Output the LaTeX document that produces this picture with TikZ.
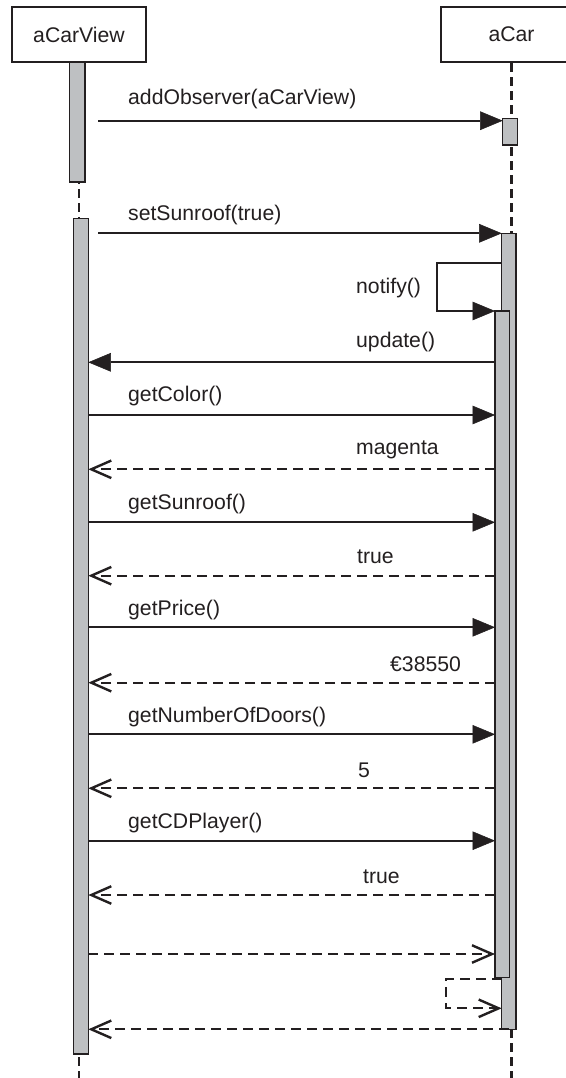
\documentclass[tikz,border=0pt]{standalone}
\usepackage{fontspec}
\setmainfont{Liberation Sans}
\usetikzlibrary{arrows.meta}
\definecolor{ink}{RGB}{35,31,32}
\definecolor{barfill}{RGB}{190,192,194}
\newcommand{\msgfont}{\fontsize{21.2}{25}\selectfont}
\tikzset{
  obj/.style={draw=ink, line width=2.2pt, fill=white, minimum height=55pt, inner sep=0pt, text=ink, font=\msgfont},
  actbar/.style={draw=ink, line width=1.2pt, fill=barfill, inner sep=0pt, outer sep=0pt, anchor=north west},
  lifeline/.style={draw=ink, line width=2.3pt, dash pattern=on 9pt off 5pt},
  call/.style={draw=ink, line width=2.1pt, -{Triangle[length=22.5pt,width=18.6pt,line width=0.5pt]}},
  reply/.style={draw=ink, line width=2.3pt, dash pattern=on 10pt off 6pt, -{Straight Barb[length=20pt,width=17.5pt,line width=2.4pt]}},
  lbl/.style={anchor=base west, inner sep=0pt, text=ink, font=\msgfont},
}
\begin{document}
\begin{tikzpicture}[x=1pt,y=-1pt]
\useasboundingbox (0,0) rectangle (565,1078);
\fill[white] (0,0) rectangle (565,1078);
% objects
\node[obj, minimum width=134pt] (view) at (79,34.5) {aCarView};
\node[obj, minimum width=141pt] (car) at (511.5,34.5) {aCar};
% lifelines
\coordinate (viewend) at (79,1080);
\coordinate (carend) at (511.5,1080);
\draw[lifeline] (view.south) -- (viewend);
\draw[lifeline] (car.south) -- (carend);
% activation bars
\node[actbar, minimum width=15.5pt, minimum height=120pt] (vb1) at (69.5,62) {};
\node[actbar, minimum width=15pt, minimum height=835.7pt] (vb2) at (73.3,218.3) {};
\node[actbar, minimum width=15pt, minimum height=26.7pt] (cb1) at (502.7,118.3) {};
\node[actbar, minimum width=14.3pt, minimum height=796pt] (cb2) at (501.7,233.3) {};
\node[actbar, minimum width=14.3pt, minimum height=666.3pt] (cb3) at (495,311) {};
% addObserver
\coordinate (ao) at (98.3,120.7);
\draw[call] (ao) -- (cb1.west |- ao);
\node[lbl] (l1) at (128,104.3) {addObserver(aCarView)};
% setSunroof
\coordinate (ss) at (98.3,233.3);
\draw[call] (ss) -- (cb2.north west);
\node[lbl] (l2) at (128,220.7) {setSunroof(true)};
% notify self call
\coordinate (nt) at (501.7,262.7);
\draw[call] (nt) -- ++(-64.4,0) |- (cb3.north west);
\node[lbl] (l3) at (356,293.3) {notify()};
% update
\draw[call] (cb3.west |- 0,362.3) -- (vb2.east |- 0,362.3);
\node[lbl] (l4) at (356,347) {update()};
% getColor / magenta
\draw[call] (vb2.east |- 0,415) -- (cb3.west |- 0,415);
\node[lbl] (l5) at (128,401) {getColor()};
\draw[reply] (cb3.west |- 0,469.3) -- (vb2.east |- 0,469.3);
\node[lbl] (l6) at (356,454.3) {magenta};
% getSunroof / true
\draw[call] (vb2.east |- 0,522.3) -- (cb3.west |- 0,522.3);
\node[lbl] (l7) at (128,509.5) {getSunroof()};
\draw[reply] (cb3.west |- 0,575.7) -- (vb2.east |- 0,575.7);
\node[lbl] (l8) at (357,563) {true};
% getPrice / price
\draw[call] (vb2.east |- 0,627.3) -- (cb3.west |- 0,627.3);
\node[lbl] (l9) at (128,615) {getPrice()};
\draw[reply] (cb3.west |- 0,682.7) -- (vb2.east |- 0,682.7);
\node[lbl] (l10) at (390,671.7) {€38550};
% getNumberOfDoors / 5
\draw[call] (vb2.east |- 0,734.3) -- (cb3.west |- 0,734.3);
\node[lbl] (l11) at (128,722) {getNumberOfDoors()};
\draw[reply] (cb3.west |- 0,788.3) -- (vb2.east |- 0,788.3);
\node[lbl] (l12) at (358,777.7) {5};
% getCDPlayer / true
\draw[call] (vb2.east |- 0,840.7) -- (cb3.west |- 0,840.7);
\node[lbl] (l13) at (128,828.5) {getCDPlayer()};
\draw[reply] (cb3.west |- 0,895) -- (vb2.east |- 0,895);
\node[lbl] (l14) at (363,883.3) {true};
% final messages
\draw[reply] (vb2.east |- 0,954) -- (cb3.west |- 0,954);
\coordinate (sl) at (501.7,979);
\draw[reply] (sl) -- ++(-55.7,0) |- (cb2.west |- 0,1008.3);
\draw[reply] (cb2.south) -- (vb2.east |- cb2.south);
\end{tikzpicture}
\end{document}
